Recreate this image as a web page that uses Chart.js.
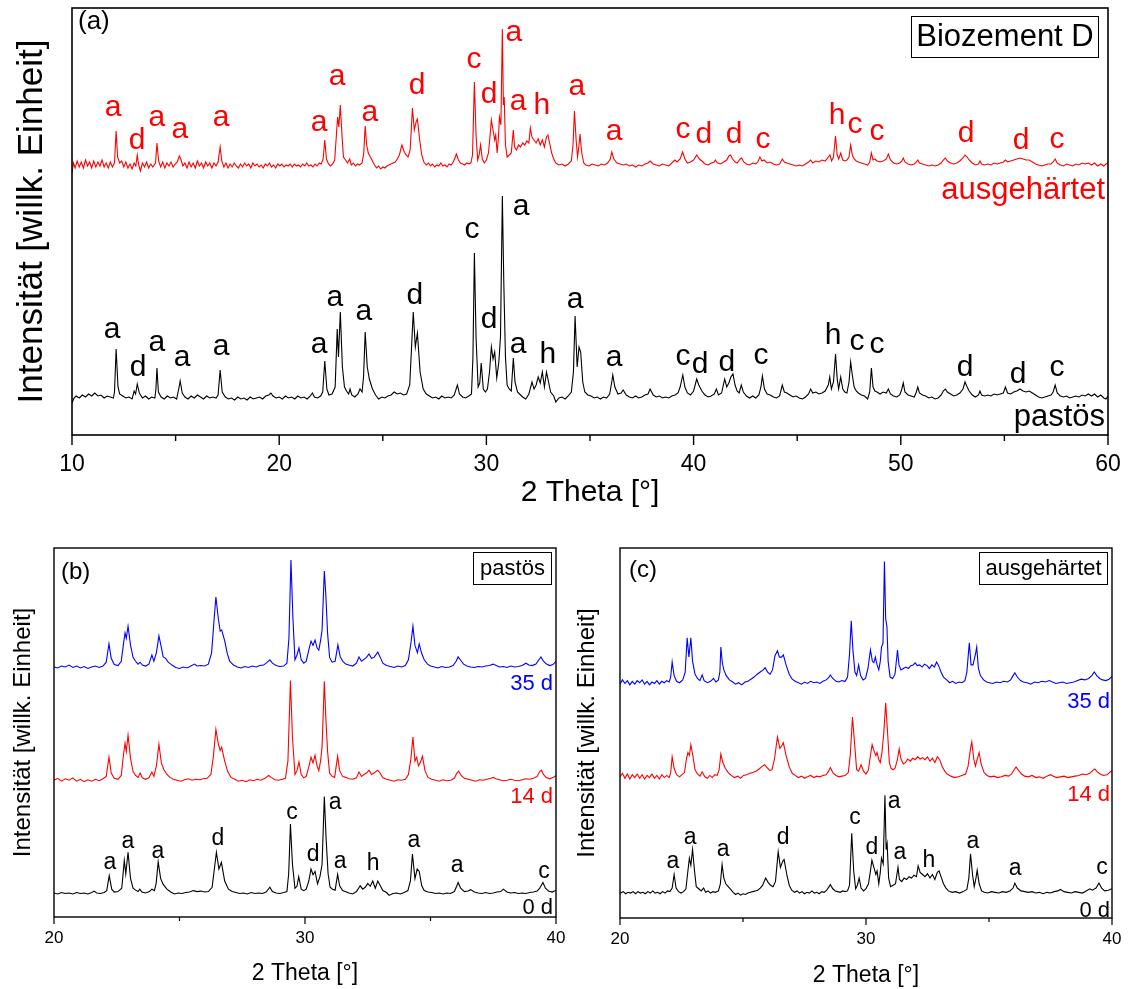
<!DOCTYPE html>
<html>
<head>
<meta charset="utf-8">
<script src="https://cdn.jsdelivr.net/npm/chart.js@4.4.1/dist/chart.umd.min.js"></script>
<style>
  html, body { margin: 0; padding: 0; background: #fff; }
  body { width: 1128px; height: 989px; position: relative; overflow: hidden; }
  canvas { position: absolute; }
</style>
</head>
<body>
<canvas id="chartA" width="1128" height="520" style="left:0;top:0"></canvas>
<canvas id="chartB" width="600" height="459" style="left:0;top:530px"></canvas>
<canvas id="chartC" width="564" height="459" style="left:564px;top:530px"></canvas>
<script>
// ---------- XRD patterns: [2Theta (deg), intensity above baseline (a.u.)] ----------

// Biozement D, pastös (= 0 d pastös)
const pastos = [
[10.0,-6],[10.1,-1],[10.2,1],[10.35,-1],[10.5,2],[10.65,0],[10.8,3],[10.95,1],[11.1,4],[11.25,1],[11.4,2],[11.55,-1],[11.7,1],[11.85,0],[12.0,-1],
[12.05,5],[12.13,48],[12.22,10],[12.3,3],[12.45,1],[12.6,-1],[12.75,0],[12.9,-2],
[13.0,6],[13.07,3],[13.15,13],[13.25,4],[13.4,-1],[13.55,1],[13.7,-2],[13.85,0],[14.0,-1],
[14.05,8],[14.1,29],[14.17,5],[14.3,0],[14.45,-2],[14.6,1],[14.75,-1],[14.9,0],[15.05,-2],
[15.15,8],[15.22,16],[15.32,4],[15.45,0],[15.6,-2],[15.75,1],[15.9,-1],[16.05,2],[16.2,0],[16.35,-2],[16.5,1],[16.65,-1],[16.8,0],[16.95,-1],[17.05,2],
[17.15,27],[17.25,5],[17.4,0],[17.55,-2],[17.7,-1],[17.85,-3],[18.0,0],[18.15,-2],[18.3,-1],[18.45,-3],[18.6,0],[18.75,-2],[18.9,-1],[19.05,0],[19.2,-2],[19.35,1],[19.5,2],[19.6,4],[19.7,1],[19.85,-1],[20.0,0],[20.15,-2],[20.3,1],[20.45,-1],[20.6,0],[20.75,-2],[20.9,1],[21.05,-1],[21.2,0],[21.35,-2],[21.5,1],[21.6,4],[21.7,0],[21.85,-1],[22.0,1],[22.1,5],
[22.2,36],[22.3,8],[22.4,2],[22.55,3],[22.7,10],[22.8,68],[22.86,40],[22.95,85],[23.05,30],[23.15,10],[23.25,6],[23.35,3],[23.42,8],[23.5,2],[23.65,0],[23.8,3],[23.9,8],[24.0,5],[24.07,20],
[24.15,65],[24.25,30],[24.35,18],[24.5,8],[24.65,2],[24.8,-2],[24.95,0],[25.1,-1],[25.25,1],[25.4,2],[25.55,5],[25.7,3],[25.85,4],[26.0,2],[26.15,3],[26.3,12],
[26.47,85],[26.57,50],[26.67,64],[26.8,25],[26.95,8],[27.1,3],[27.25,1],[27.4,-1],[27.55,0],[27.7,-2],[27.85,1],[28.0,-1],[28.15,0],[28.3,-1],[28.45,2],[28.6,12],[28.7,3],[28.85,0],[29.0,-1],[29.15,1],[29.28,3],
[29.35,40],[29.42,144],[29.5,60],[29.6,10],[29.68,14],[29.75,34],[29.85,8],[29.95,5],[30.05,8],[30.15,25],[30.24,50],[30.32,38],[30.4,45],[30.5,19],[30.6,35],[30.68,60],[30.77,201],[30.84,114],[30.92,40],[31.0,12],[31.1,8],[31.2,6],[31.3,39],[31.38,15],[31.5,5],[31.6,3],[31.75,0],[31.9,-2],[32.05,3],[32.2,15],[32.3,8],[32.4,12],[32.5,20],[32.6,14],[32.7,25],[32.8,10],[32.9,25],[33.0,15],[33.1,5],[33.25,1],[33.35,-5],[33.5,-1],[33.65,0],[33.8,-2],[33.95,1],[34.1,5],[34.2,25],
[34.28,81],[34.38,30],[34.47,50],[34.55,45],[34.65,15],[34.75,5],[34.9,2],[35.05,1],[35.2,-1],[35.35,0],[35.5,-2],[35.65,0],[35.8,-1],[35.95,3],
[36.05,15],[36.1,22],[36.2,10],[36.35,3],[36.5,4],[36.6,7],[36.75,2],[36.9,0],[37.05,-1],[37.2,1],[37.35,-1],[37.5,0],[37.65,2],[37.8,3],[37.9,8],[38.05,2],[38.2,0],[38.35,1],[38.5,-1],[38.65,0],[38.8,-1],[38.95,1],[39.1,2],[39.25,4],[39.35,10],
[39.48,22],[39.58,10],[39.7,4],[39.85,2],[40.0,6],[40.15,18],[40.25,12],[40.4,6],[40.55,2],[40.7,0],[40.85,1],[41.0,3],[41.1,8],[41.2,2],[41.35,4],[41.5,18],[41.6,10],[41.7,14],[41.8,20],[41.9,23],[42.0,12],[42.1,6],[42.2,4],[42.3,12],[42.4,5],[42.55,1],[42.7,-1],[42.85,1],[43.0,-1],[43.15,2],[43.25,10],[43.32,21],[43.42,8],[43.55,3],[43.7,2],[43.85,0],[44.0,-1],[44.15,1],[44.28,12],[44.38,5],[44.5,4],[44.65,2],[44.8,0],[44.95,1],[45.1,-1],[45.25,-2],[45.4,0],[45.55,3],[45.65,8],[45.75,4],[45.9,5],[46.05,3],[46.2,4],[46.35,6],[46.5,12],[46.57,20],[46.65,8],[46.75,15],[46.85,43],[46.93,18],[47.0,8],[47.1,20],[47.2,8],[47.3,5],[47.4,4],[47.5,15],[47.58,35],[47.66,22],[47.75,10],[47.85,6],[47.95,4],[48.1,2],[48.25,1],[48.4,-2],[48.5,5],
[48.58,29],[48.66,10],[48.75,6],[48.85,5],[49.0,3],[49.15,5],[49.3,4],[49.4,8],[49.5,3],[49.65,1],[49.8,0],[49.95,2],[50.05,8],[50.12,14],[50.2,5],[50.35,2],[50.5,1],[50.65,0],[50.75,5],[50.82,10],[50.9,4],[51.05,2],[51.2,1],[51.35,-1],[51.5,0],[51.65,-2],[51.8,-1],[51.95,2],[52.05,6],[52.15,8],[52.25,5],[52.4,3],[52.55,1],[52.7,2],[52.85,4],[53.0,8],[53.1,15],[53.2,10],[53.3,6],[53.45,2],[53.6,0],[53.75,2],[53.82,6],[53.9,2],[54.05,1],[54.2,2],[54.35,1],[54.5,3],[54.65,2],[54.8,3],[54.95,4],[55.05,10],[55.15,4],[55.3,3],[55.45,5],[55.6,6],[55.75,8],[55.9,6],[56.05,5],[56.2,6],[56.35,4],[56.5,2],[56.65,0],[56.8,-1],[56.95,0],[57.1,1],[57.25,2],[57.35,5],[57.45,12],[57.55,4],[57.7,1],[57.85,0],[58.0,1],[58.15,-1],[58.3,0],[58.45,1],[58.6,0],[58.75,2],[58.9,1],[59.05,3],[59.2,1],[59.35,3],[59.5,0],[59.65,2],[59.8,-1],[59.9,-2],[60.0,1]
];

// Biozement D, ausgehärtet (= 0 d ausgehärtet)
const ausgehaertet = [
[10.0,-8],[10.07,2],[10.15,-3],[10.25,4],[10.35,-2],[10.45,3],[10.55,-3],[10.65,5],[10.75,-1],[10.85,3],[10.95,-3],[11.05,4],[11.15,-2],[11.25,3],[11.35,-1],[11.45,5],[11.55,-2],[11.65,2],[11.75,-3],[11.85,3],[11.95,-2],[12.05,2],
[12.13,34],[12.2,8],[12.3,2],[12.4,4],[12.5,-2],[12.6,3],[12.7,-3],[12.8,1],[12.9,-4],[13.0,2],[13.08,-1],[13.15,10],[13.22,0],[13.3,-6],[13.4,2],[13.5,-2],[13.6,3],[13.7,-3],[13.8,1],[13.9,-2],[14.03,2],
[14.1,22],[14.18,4],[14.28,-2],[14.38,3],[14.48,-3],[14.58,2],[14.68,-1],[14.78,3],[14.88,-2],[14.98,1],[15.08,3],[15.18,9],[15.25,6],[15.35,-1],[15.45,2],[15.55,-3],[15.65,3],[15.75,-2],[15.85,2],[15.95,-3],[16.05,4],[16.15,-1],[16.25,2],[16.35,-3],[16.45,3],[16.55,-1],[16.65,2],[16.75,-3],[16.85,2],[16.95,-1],[17.05,3],
[17.15,18],[17.23,4],[17.33,-2],[17.43,2],[17.53,-3],[17.63,1],[17.73,-2],[17.83,2],[17.93,-1],[18.03,-3],[18.13,1],[18.23,-2],[18.33,2],[18.43,-1],[18.53,1],[18.63,-3],[18.73,2],[18.83,-1],[18.93,1],[19.03,-2],[19.13,0],[19.23,-3],[19.33,1],[19.43,-1],[19.53,2],[19.63,-2],[19.73,0],[19.83,-3],[19.93,1],[20.03,-1],[20.13,1],[20.23,-2],[20.33,0],[20.43,-1],[20.53,1],[20.63,-2],[20.73,1],[20.83,-1],[20.93,0],[21.03,-2],[21.13,1],[21.23,-1],[21.33,2],[21.43,-1],[21.53,0],[21.63,-2],[21.73,1],[21.83,-1],[21.93,2],[22.03,1],[22.12,6],
[22.2,25],[22.28,6],[22.38,1],[22.48,-1],[22.58,1],[22.68,5],[22.76,30],[22.82,48],[22.88,38],[22.95,60],[23.03,30],[23.1,8],[23.2,5],[23.3,2],[23.4,6],[23.48,0],[23.58,2],[23.68,-1],[23.78,1],[23.88,0],[24.0,2],[24.08,12],
[24.15,39],[24.22,20],[24.3,12],[24.4,8],[24.5,4],[24.6,0],[24.7,-3],[24.8,-1],[24.9,-4],[25.0,-2],[25.1,-3],[25.2,-1],[25.3,0],[25.4,1],[25.5,2],[25.6,3],[25.7,6],[25.8,10],[25.92,20],[26.02,14],[26.12,10],[26.22,8],[26.32,15],
[26.43,57],[26.52,35],[26.62,44],[26.67,46],[26.78,25],[26.88,10],[26.98,3],[27.1,0],[27.2,2],[27.3,-1],[27.4,1],[27.5,-2],[27.6,0],[27.7,-1],[27.8,2],[27.9,-1],[28.0,0],[28.1,-2],[28.2,1],[28.3,0],[28.4,3],[28.5,8],[28.55,11],[28.65,5],[28.75,2],[28.85,1],[28.95,0],[29.05,2],[29.15,1],[29.25,2],[29.33,10],
[29.42,83],[29.5,30],[29.58,5],[29.65,10],[29.72,20],[29.8,6],[29.9,2],[30.0,5],[30.1,12],[30.18,30],[30.24,45],[30.32,35],[30.4,25],[30.45,30],[30.52,12],[30.58,28],[30.63,48],[30.7,40],[30.77,136],[30.82,60],[30.86,68],[30.92,20],[31.0,8],[31.1,10],[31.2,12],[31.3,35],[31.36,18],[31.45,15],[31.55,20],[31.65,18],[31.75,22],[31.85,20],[31.95,24],[32.05,22],[32.12,37],[32.2,28],[32.3,25],[32.4,22],[32.5,26],[32.6,20],[32.7,25],[32.8,18],[32.9,28],[32.97,30],[33.05,22],[33.15,12],[33.25,6],[33.35,2],[33.5,0],[33.65,1],[33.8,-1],[33.95,1],[34.1,4],[34.18,20],
[34.25,54],[34.33,25],[34.4,8],[34.47,20],[34.52,31],[34.6,12],[34.7,2],[34.8,0],[34.95,-1],[35.1,1],[35.25,0],[35.4,-1],[35.55,1],[35.7,0],[35.85,2],[35.98,6],[36.05,13],[36.15,6],[36.3,2],[36.45,1],[36.6,0],[36.75,1],[36.9,-1],[37.05,0],[37.2,-2],[37.35,0],[37.5,-1],[37.65,1],[37.8,2],[37.9,4],[38.05,1],[38.2,0],[38.35,-1],[38.5,1],[38.65,0],[38.8,-1],[38.95,2],[39.1,5],[39.2,3],[39.35,6],[39.47,13],[39.58,6],[39.7,2],[39.85,3],[40.0,5],[40.15,10],[40.28,6],[40.4,4],[40.55,1],[40.7,0],[40.85,2],[41.0,3],[41.05,5],[41.15,2],[41.3,1],[41.45,3],[41.6,5],[41.7,9],[41.78,10],[41.88,6],[42.0,3],[42.1,2],[42.25,6],[42.32,7],[42.42,3],[42.55,1],[42.7,0],[42.85,2],[43.0,1],[43.1,3],[43.2,8],[43.3,4],[43.4,5],[43.55,2],[43.7,3],[43.85,1],[44.0,0],[44.15,1],[44.28,6],[44.38,3],[44.5,2],[44.65,1],[44.8,0],[44.95,-1],[45.1,0],[45.25,-1],[45.4,1],[45.55,3],[45.65,5],[45.75,2],[45.9,4],[46.05,3],[46.2,5],[46.35,4],[46.5,8],[46.58,10],[46.66,4],[46.75,8],[46.85,29],[46.93,10],[47.0,6],[47.1,12],[47.2,5],[47.3,4],[47.4,5],[47.5,8],[47.58,20],[47.66,10],[47.75,6],[47.85,4],[47.95,3],[48.1,2],[48.25,1],[48.4,0],[48.5,3],[48.58,12],[48.66,5],[48.75,6],[48.85,4],[49.0,3],[49.15,4],[49.3,6],[49.4,11],[49.5,5],[49.65,2],[49.8,1],[49.95,2],[50.05,4],[50.12,7],[50.2,3],[50.35,1],[50.5,0],[50.65,1],[50.75,3],[50.82,5],[50.9,2],[51.05,1],[51.2,0],[51.35,-1],[51.5,0],[51.65,-1],[51.8,0],[51.95,2],[52.05,5],[52.15,7],[52.25,4],[52.4,2],[52.55,1],[52.7,2],[52.85,4],[53.0,7],[53.1,10],[53.2,8],[53.3,5],[53.45,2],[53.6,0],[53.75,1],[53.82,4],[53.9,1],[54.05,0],[54.2,1],[54.35,0],[54.5,2],[54.65,1],[54.8,2],[54.95,3],[55.05,5],[55.15,3],[55.3,4],[55.45,5],[55.6,6],[55.75,7],[55.9,6],[56.05,5],[56.2,5],[56.35,3],[56.5,1],[56.65,0],[56.8,-1],[56.95,0],[57.1,1],[57.25,1],[57.35,3],[57.45,6],[57.55,2],[57.7,0],[57.85,-1],[58.0,1],[58.15,0],[58.3,-1],[58.45,1],[58.6,0],[58.75,2],[58.9,1],[59.05,2],[59.2,0],[59.35,2],[59.5,-1],[59.65,1],[59.8,-1],[59.9,1],[60.0,2]
];

// pastös after 14 d
const pastos14d = [
[20.0,0],[20.15,4],[20.3,-2],[20.45,3],[20.6,0],[20.75,5],[20.9,-2],[21.05,2],[21.2,-3],[21.35,1],[21.5,-2],[21.65,2],[21.8,-1],[21.95,3],[22.08,8],[22.19,48],[22.28,15],[22.4,4],[22.55,2],[22.68,10],[22.76,50],[22.83,77],[22.88,60],[22.95,94],[23.05,45],[23.15,18],[23.25,10],[23.35,6],[23.43,15],[23.52,5],[23.65,2],[23.78,5],[23.9,17],[23.98,8],[24.08,30],[24.18,75],[24.28,35],[24.38,22],[24.5,12],[24.62,6],[24.75,2],[24.9,0],[25.05,-2],[25.2,1],[25.35,3],[25.5,0],[25.65,2],[25.8,1],[25.95,3],[26.1,4],[26.25,12],[26.35,50],[26.45,106],[26.55,75],[26.62,62],[26.68,69],[26.8,40],[26.92,18],[27.05,6],[27.2,2],[27.35,-2],[27.5,0],[27.65,-3],[27.8,1],[27.95,-1],[28.1,2],[28.25,0],[28.4,4],[28.55,10],[28.65,6],[28.8,1],[28.95,0],[29.1,2],[29.22,4],[29.32,40],[29.42,208],[29.5,90],[29.6,12],[29.68,20],[29.76,38],[29.85,12],[29.95,5],[30.05,8],[30.15,28],[30.24,48],[30.32,36],[30.4,52],[30.48,30],[30.55,20],[30.62,40],[30.68,70],[30.77,206],[30.83,130],[30.9,60],[30.98,15],[31.08,8],[31.18,6],[31.3,50],[31.38,20],[31.5,8],[31.62,6],[31.75,3],[31.9,2],[32.05,5],[32.15,17],[32.25,8],[32.35,12],[32.45,15],[32.55,21],[32.65,12],[32.75,15],[32.9,21],[33.0,14],[33.1,5],[33.25,2],[33.4,0],[33.55,-2],[33.7,1],[33.85,0],[34.0,2],[34.12,12],[34.22,45],[34.3,90],[34.38,40],[34.45,48],[34.52,30],[34.6,38],[34.68,50],[34.78,20],[34.9,6],[35.05,2],[35.2,0],[35.35,-2],[35.5,1],[35.65,-1],[35.8,0],[35.95,4],[36.05,15],[36.12,19],[36.22,10],[36.35,4],[36.5,2],[36.65,0],[36.8,-2],[36.95,1],[37.1,0],[37.25,2],[37.4,4],[37.5,6],[37.6,3],[37.75,1],[37.9,-1],[38.05,0],[38.2,2],[38.35,0],[38.5,-1],[38.65,1],[38.8,3],[38.95,2],[39.1,4],[39.25,8],[39.35,18],[39.42,21],[39.5,12],[39.6,6],[39.75,3],[39.9,6],[40.0,10]
];

// pastös after 35 d
const pastos35d = [
[20.0,0],[20.15,-2],[20.3,2],[20.45,0],[20.6,4],[20.75,-1],[20.9,2],[21.05,-2],[21.2,1],[21.35,-3],[21.5,0],[21.65,2],[21.8,-1],[21.95,2],[22.08,10],[22.19,48],[22.28,18],[22.4,5],[22.55,3],[22.68,12],[22.76,45],[22.83,71],[22.88,60],[22.95,85],[23.05,45],[23.15,20],[23.25,12],[23.35,6],[23.43,10],[23.52,4],[23.65,2],[23.78,6],[23.9,25],[23.98,12],[24.08,30],[24.18,65],[24.28,40],[24.35,21],[24.45,18],[24.55,10],[24.7,4],[24.85,-1],[25.0,-3],[25.15,0],[25.3,-2],[25.45,2],[25.6,6],[25.7,2],[25.85,3],[26.0,2],[26.15,6],[26.28,30],[26.38,100],[26.45,146],[26.55,100],[26.62,75],[26.68,77],[26.8,55],[26.9,29],[27.0,12],[27.15,4],[27.3,0],[27.45,-2],[27.6,1],[27.75,-1],[27.9,2],[28.05,0],[28.2,3],[28.35,4],[28.5,10],[28.6,15],[28.7,8],[28.85,3],[29.0,1],[29.15,2],[29.28,8],[29.36,60],[29.44,223],[29.52,100],[29.6,15],[29.68,25],[29.76,40],[29.85,15],[29.95,8],[30.05,12],[30.15,35],[30.24,54],[30.32,45],[30.4,56],[30.48,40],[30.55,35],[30.62,55],[30.68,77],[30.77,200],[30.83,150],[30.9,70],[30.98,20],[31.08,10],[31.2,12],[31.31,46],[31.4,22],[31.5,12],[31.62,6],[31.75,4],[31.9,2],[32.05,8],[32.15,21],[32.25,12],[32.35,16],[32.45,20],[32.55,27],[32.65,18],[32.75,20],[32.9,31],[33.0,20],[33.1,8],[33.25,3],[33.4,1],[33.55,-1],[33.7,2],[33.85,0],[34.0,3],[34.12,15],[34.22,50],[34.3,85],[34.38,45],[34.48,30],[34.55,48],[34.65,28],[34.75,15],[34.88,6],[35.0,2],[35.15,0],[35.3,-2],[35.45,1],[35.6,-1],[35.75,0],[35.9,3],[36.02,12],[36.1,21],[36.2,14],[36.32,6],[36.45,2],[36.6,0],[36.75,-1],[36.9,1],[37.05,0],[37.2,2],[37.35,3],[37.5,6],[37.62,3],[37.75,0],[37.9,1],[38.05,-1],[38.2,2],[38.35,0],[38.5,1],[38.65,3],[38.8,8],[38.92,4],[39.05,3],[39.2,6],[39.32,15],[39.4,21],[39.5,12],[39.62,6],[39.75,3],[39.88,5],[40.0,12]
];

// ausgehärtet after 14 d
const ausgehaertet14d = [
[20.0,0],[20.1,5],[20.2,-2],[20.3,4],[20.4,-3],[20.5,3],[20.6,-1],[20.7,4],[20.8,-2],[20.9,3],[21.0,-3],[21.1,2],[21.2,-1],[21.3,4],[21.4,-2],[21.5,2],[21.6,-3],[21.7,3],[21.8,-1],[21.9,2],[22.0,-1],[22.06,6],[22.12,28],[22.2,12],[22.3,3],[22.42,0],[22.52,3],[22.62,6],[22.7,25],[22.76,34],[22.82,30],[22.88,45],[22.96,30],[23.05,10],[23.15,4],[23.25,1],[23.34,7],[23.45,0],[23.55,-2],[23.65,2],[23.75,-1],[23.85,3],[23.95,2],[24.03,10],[24.1,32],[24.18,20],[24.28,12],[24.4,6],[24.52,2],[24.65,-1],[24.78,1],[24.9,-2],[25.02,2],[25.15,3],[25.28,5],[25.4,6],[25.52,8],[25.62,10],[25.75,14],[25.88,17],[25.98,13],[26.08,9],[26.18,10],[26.28,25],[26.4,56],[26.5,40],[26.58,44],[26.64,48],[26.75,30],[26.88,14],[27.0,5],[27.12,2],[27.25,-1],[27.38,1],[27.5,-2],[27.62,0],[27.75,2],[27.88,-1],[28.0,1],[28.12,0],[28.25,2],[28.38,3],[28.48,8],[28.55,13],[28.65,6],[28.78,2],[28.9,0],[29.02,1],[29.15,2],[29.28,6],[29.36,30],[29.45,84],[29.54,45],[29.62,10],[29.7,8],[29.8,17],[29.9,8],[30.0,4],[30.1,10],[30.18,30],[30.25,45],[30.33,36],[30.4,30],[30.45,34],[30.52,24],[30.58,20],[30.65,35],[30.72,60],[30.8,104],[30.88,60],[30.95,20],[31.02,12],[31.1,10],[31.18,12],[31.28,25],[31.35,39],[31.42,25],[31.52,18],[31.6,20],[31.7,25],[31.8,22],[31.9,26],[32.0,24],[32.1,28],[32.2,25],[32.3,27],[32.4,24],[32.5,28],[32.6,22],[32.7,26],[32.8,20],[32.9,28],[33.0,24],[33.1,14],[33.2,8],[33.3,4],[33.45,1],[33.6,-1],[33.75,0],[33.9,2],[34.05,4],[34.15,15],[34.25,40],[34.3,49],[34.38,25],[34.45,15],[34.52,25],[34.6,34],[34.68,18],[34.8,6],[34.92,2],[35.05,0],[35.2,1],[35.35,-1],[35.5,0],[35.65,2],[35.8,1],[35.92,4],[36.02,10],[36.1,14],[36.2,9],[36.32,4],[36.45,1],[36.6,0],[36.75,2],[36.9,-1],[37.05,0],[37.2,-2],[37.35,1],[37.5,3],[37.62,1],[37.75,-1],[37.9,0],[38.05,1],[38.2,-1],[38.35,0],[38.5,1],[38.65,2],[38.8,4],[38.95,3],[39.1,5],[39.22,9],[39.3,11],[39.4,7],[39.52,4],[39.65,2],[39.8,3],[39.9,6],[40.0,9]
];

// ausgehärtet after 35 d
const ausgehaertet35d = [
[20.0,-2],[20.1,4],[20.2,-1],[20.3,3],[20.4,-3],[20.5,2],[20.6,-2],[20.7,3],[20.8,0],[20.9,4],[21.0,-2],[21.1,2],[21.2,-3],[21.3,1],[21.4,-1],[21.5,3],[21.6,-2],[21.7,2],[21.8,0],[21.9,3],[22.0,1],[22.06,8],[22.12,29],[22.2,10],[22.3,2],[22.42,0],[22.55,4],[22.65,15],[22.73,63],[22.8,36],[22.88,63],[22.95,30],[23.05,12],[23.15,6],[23.25,3],[23.34,11],[23.42,3],[23.55,0],[23.68,2],[23.8,6],[23.9,1],[24.0,4],[24.06,15],[24.1,50],[24.16,28],[24.22,18],[24.32,10],[24.45,4],[24.58,1],[24.7,-2],[24.82,0],[24.95,-3],[25.08,1],[25.2,2],[25.32,5],[25.45,8],[25.58,12],[25.7,15],[25.82,18],[25.9,21],[26.0,15],[26.1,12],[26.2,18],[26.3,38],[26.4,45],[26.48,36],[26.56,36],[26.64,39],[26.75,25],[26.88,12],[27.0,5],[27.12,2],[27.25,0],[27.38,-2],[27.5,1],[27.62,-1],[27.75,2],[27.88,0],[28.0,1],[28.12,-1],[28.25,2],[28.38,4],[28.48,7],[28.55,11],[28.65,6],[28.78,2],[28.9,1],[29.02,3],[29.15,2],[29.25,8],[29.33,40],[29.4,87],[29.47,45],[29.55,15],[29.62,10],[29.7,25],[29.78,10],[29.88,4],[29.98,6],[30.08,20],[30.18,46],[30.26,30],[30.32,28],[30.38,36],[30.45,25],[30.52,18],[30.58,30],[30.63,50],[30.69,55],[30.75,170],[30.8,90],[30.85,79],[30.9,30],[30.98,8],[31.08,6],[31.18,12],[31.28,46],[31.34,25],[31.42,18],[31.52,20],[31.62,22],[31.72,20],[31.82,24],[31.92,25],[32.0,28],[32.08,24],[32.18,25],[32.28,22],[32.38,26],[32.48,24],[32.58,20],[32.68,25],[32.78,22],[32.87,29],[32.95,24],[33.05,15],[33.15,8],[33.28,4],[33.4,0],[33.52,2],[33.65,-1],[33.78,1],[33.9,0],[34.02,3],[34.1,15],[34.16,40],[34.2,56],[34.27,25],[34.35,25],[34.45,40],[34.5,50],[34.57,20],[34.65,10],[34.78,4],[34.9,1],[35.02,0],[35.15,-1],[35.3,1],[35.45,0],[35.6,2],[35.75,1],[35.88,4],[35.98,10],[36.05,14],[36.15,8],[36.28,3],[36.4,1],[36.55,0],[36.7,-2],[36.85,1],[37.0,0],[37.15,2],[37.3,1],[37.45,3],[37.58,1],[37.72,-1],[37.85,0],[38.0,1],[38.15,-1],[38.3,0],[38.45,1],[38.6,3],[38.75,5],[38.9,4],[39.05,6],[39.18,10],[39.28,15],[39.38,10],[39.5,6],[39.62,4],[39.75,3],[39.88,5],[40.0,9]
];

// ---------- phase labels: [2Theta, intensity, letter] ----------
const phasesAusgehaertetA = [
[11.98,319,'a'],[13.14,286,'d'],[14.10,309,'a'],[15.21,297,'a'],[17.19,309,'a'],[21.92,304,'a'],[22.79,350,'a'],[24.38,314,'a'],[26.65,341,'d'],
[29.40,367,'c'],[30.13,332,'d'],[31.33,394,'a'],[31.53,325,'a'],[32.68,321,'h'],[34.37,340,'a'],[36.16,295,'a'],[39.49,297,'c'],[40.50,292,'d'],
[41.95,292,'d'],[43.35,287,'c'],[46.92,311,'h'],[47.79,302,'c'],[48.85,295,'c'],[53.15,293,'d'],[55.80,286,'d'],[57.54,287,'c']
];
const phasesPastosA = [
[11.93,97,'a'],[13.19,59,'d'],[14.10,84,'a'],[15.31,69,'a'],[17.19,80,'a'],[21.92,82,'a'],[22.69,129,'a'],[24.09,115,'a'],[26.55,131,'d'],
[29.31,197,'c'],[30.13,107,'d'],[31.67,220,'a'],[31.53,82,'a'],[32.97,72,'h'],[34.28,127,'a'],[36.16,69,'a'],[39.49,70,'c'],[40.31,62,'d'],
[41.61,64,'d'],[43.25,71,'c'],[46.73,91,'h'],[47.89,85,'c'],[48.85,82,'c'],[53.10,59,'d'],[55.66,52,'d'],[57.54,59,'c']
];
const phasesPastosB = [
[22.23,100,'a'],[22.94,144,'a'],[24.14,123,'a'],[26.53,150,'d'],[29.48,204,'c'],[30.32,117,'d'],
[31.20,225,'a'],[31.40,102,'a'],[32.71,98,'h'],[34.34,146,'a'],[36.06,94,'a'],[39.52,81,'c']
];
const phasesAusgehaertetC = [
[22.15,70,'a'],[22.85,104,'a'],[24.19,87,'a'],[26.63,104,'d'],[29.55,132,'c'],[30.24,90,'d'],
[31.14,154,'a'],[31.38,83,'a'],[32.56,72,'h'],[34.35,98,'a'],[36.06,60,'a'],[39.59,62,'c']
];

// axis ticks
const ticksA = [10, 20, 30, 40, 50, 60];
const minorTicksA = [15, 25, 35, 45, 55];
const ticksBC = [20, 30, 40];
const minorTicksBC = [25, 35];

// ---------- drawing ----------
const FONT = '"Liberation Sans", Arial, Helvetica, sans-serif';
const BLACK = '#000000', RED = '#ff0000', BLUE = '#0000ff';

function stack(pairs, offset) {
  return pairs.map(([x, y]) => ({ x: x, y: y + offset }));
}

const decor = {
  id: 'decor',
  afterDraw(chart, args, o) {
    const ctx = chart.ctx, a = chart.chartArea;
    const xs = chart.scales.x, ys = chart.scales.y;
    ctx.save();
    // frame
    ctx.strokeStyle = BLACK;
    ctx.lineWidth = o.frameWidth;
    ctx.strokeRect(a.left, a.top, a.right - a.left, a.bottom - a.top);
    // ticks (outside, bottom)
    ctx.lineWidth = o.tickWidth;
    ctx.beginPath();
    o.major.forEach(v => {
      const px = xs.getPixelForValue(v);
      ctx.moveTo(px, a.bottom); ctx.lineTo(px, a.bottom + o.majorLen);
    });
    o.minor.forEach(v => {
      const px = xs.getPixelForValue(v);
      ctx.moveTo(px, a.bottom); ctx.lineTo(px, a.bottom + o.minorLen);
    });
    ctx.stroke();
    // tick labels
    ctx.fillStyle = BLACK;
    ctx.font = o.tickFont + 'px ' + FONT;
    ctx.textAlign = 'center';
    ctx.textBaseline = 'middle';
    o.major.forEach(v => ctx.fillText(String(v), xs.getPixelForValue(v), a.bottom + o.tickLabelDy));
    // x title
    ctx.font = o.xTitleFont + 'px ' + FONT;
    ctx.fillText(o.xTitle, (a.left + a.right) / 2, a.bottom + o.xTitleDy);
    // y title
    ctx.save();
    ctx.translate(a.left - o.yTitleDx, (a.top + a.bottom) / 2);
    ctx.rotate(-Math.PI / 2);
    ctx.font = o.yTitleFont + 'px ' + FONT;
    ctx.fillText(o.yTitle, 0, 0);
    ctx.restore();
    // panel tag
    ctx.font = o.tag.font + 'px ' + FONT;
    ctx.textAlign = 'left';
    ctx.fillText(o.tag.text, o.tag.x, o.tag.y);
    // sample box
    ctx.lineWidth = 1;
    ctx.strokeRect(o.box.x + 0.5, o.box.y + 0.5, o.box.w, o.box.h);
    ctx.font = o.box.font + 'px ' + FONT;
    ctx.textAlign = 'center';
    ctx.fillText(o.box.text, o.box.x + o.box.w / 2 + 0.5, o.box.y + o.box.h / 2 + 1);
    // series names
    ctx.textAlign = 'right';
    o.names.forEach(n => {
      ctx.fillStyle = n.color;
      ctx.font = n.font + 'px ' + FONT;
      ctx.fillText(n.text, n.x, n.y);
    });
    // phase letters
    ctx.textAlign = 'center';
    ctx.textBaseline = 'alphabetic';
    o.phases.forEach(set => {
      ctx.fillStyle = set.color;
      ctx.font = set.font + 'px ' + FONT;
      set.items.forEach(([x, y, t]) => ctx.fillText(t, xs.getPixelForValue(x), ys.getPixelForValue(y)));
    });
    ctx.restore();
  }
};

function lineSet(label, data, color) {
  return { label, data, borderColor: color, borderWidth: 1.1, pointRadius: 0, tension: 0, fill: false };
}

function makeChart(id, cfg) {
  return new Chart(document.getElementById(id), {
    type: 'line',
    data: { datasets: cfg.datasets },
    options: {
      responsive: false,
      animation: false,
      devicePixelRatio: 1,
      parsing: false,
      normalized: true,
      layout: { padding: cfg.padding },
      plugins: { legend: { display: false }, tooltip: { enabled: false }, decor: cfg.decor },
      scales: {
        x: { type: 'linear', min: cfg.xMin, max: cfg.xMax, display: false },
        y: { type: 'linear', min: 0, max: cfg.yMax, display: false }
      }
    },
    plugins: [decor]
  });
}

// (a) Biozement D: pastös vs. ausgehärtet
makeChart('chartA', {
  xMin: 10, xMax: 60, yMax: 427,
  padding: { left: 72, top: 8, right: 20, bottom: 85 },
  datasets: [
    lineSet('pastös', stack(pastos, 38), BLACK),
    lineSet('ausgehärtet', stack(ausgehaertet, 270), RED)
  ],
  decor: {
    frameWidth: 1.6, tickWidth: 1.4, major: ticksA, minor: minorTicksA, majorLen: 10, minorLen: 6,
    tickFont: 23, tickLabelDy: 30, xTitle: '2 Theta [°]', xTitleFont: 30, xTitleDy: 58,
    yTitle: 'Intensität [willk. Einheit]', yTitleFont: 35, yTitleDx: 40,
    tag: { text: '(a)', x: 78, y: 22, font: 26 },
    box: { text: 'Biozement D', x: 911, y: 16, w: 187, h: 41, font: 31 },
    names: [
      { text: 'ausgehärtet', x: 1105, y: 190, color: RED, font: 31 },
      { text: 'pastös', x: 1105, y: 417, color: BLACK, font: 31 }
    ],
    phases: [
      { color: RED, font: 30, items: phasesAusgehaertetA },
      { color: BLACK, font: 30, items: phasesPastosA }
    ]
  }
});

// (b) pastös after 0, 14 and 35 days
makeChart('chartB', {
  xMin: 20, xMax: 40, yMax: 769,
  padding: { left: 54, top: 18, right: 44, bottom: 72 },
  datasets: [
    lineSet('0 d', stack(pastos, 50), BLACK),
    lineSet('14 d', stack(pastos14d, 285), RED),
    lineSet('35 d', stack(pastos35d, 521), BLUE)
  ],
  decor: {
    frameWidth: 1.4, tickWidth: 1.2, major: ticksBC, minor: minorTicksBC, majorLen: 7, minorLen: 4,
    tickFont: 17, tickLabelDy: 21, xTitle: '2 Theta [°]', xTitleFont: 23, xTitleDy: 57,
    yTitle: 'Intensität [willk. Einheit]', yTitleFont: 24, yTitleDx: 31,
    tag: { text: '(b)', x: 61, y: 42, font: 24 },
    box: { text: 'pastös', x: 473, y: 22, w: 78, h: 32, font: 22 },
    names: [
      { text: '35 d', x: 553, y: 154, color: BLUE, font: 22 },
      { text: '14 d', x: 553, y: 267, color: RED, font: 22 },
      { text: '0 d', x: 553, y: 378, color: BLACK, font: 22 }
    ],
    phases: [ { color: BLACK, font: 23, items: phasesPastosB } ]
  }
});

// (c) ausgehärtet after 0, 14 and 35 days
makeChart('chartC', {
  xMin: 20, xMax: 40, yMax: 519,
  padding: { left: 56, top: 18, right: 16, bottom: 71 },
  datasets: [
    lineSet('0 d', stack(ausgehaertet, 36), BLACK),
    lineSet('14 d', stack(ausgehaertet14d, 198), RED),
    lineSet('35 d', stack(ausgehaertet35d, 330), BLUE)
  ],
  decor: {
    frameWidth: 1.4, tickWidth: 1.2, major: ticksBC, minor: minorTicksBC, majorLen: 7, minorLen: 4,
    tickFont: 17, tickLabelDy: 21, xTitle: '2 Theta [°]', xTitleFont: 23, xTitleDy: 58,
    yTitle: 'Intensität [willk. Einheit]', yTitleFont: 24, yTitleDx: 33,
    tag: { text: '(c)', x: 65, y: 40, font: 24 },
    box: { text: 'ausgehärtet', x: 415, y: 22, w: 128, h: 32, font: 22 },
    names: [
      { text: '35 d', x: 546, y: 172, color: BLUE, font: 22 },
      { text: '14 d', x: 546, y: 265, color: RED, font: 22 },
      { text: '0 d', x: 546, y: 381, color: BLACK, font: 22 }
    ],
    phases: [ { color: BLACK, font: 23, items: phasesAusgehaertetC } ]
  }
});
</script>
</body>
</html>
